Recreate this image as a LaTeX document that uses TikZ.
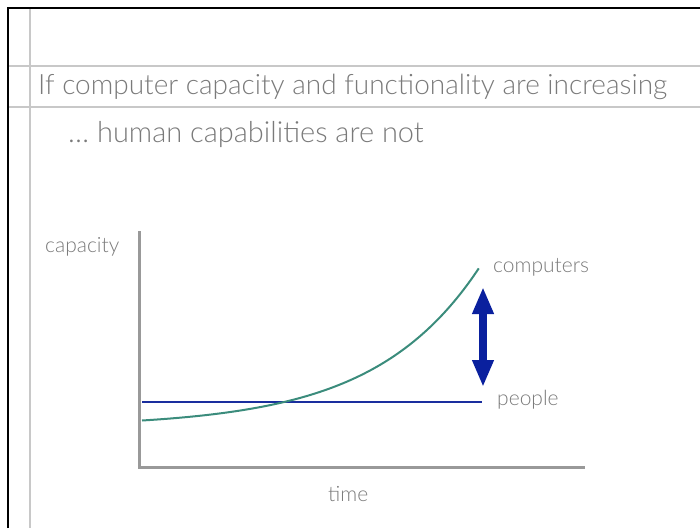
\documentclass[tikz,border=0pt]{standalone}
\usepackage{fontspec}
\setmainfont{Lato}[UprightFont=*-Light]
\usetikzlibrary{arrows.meta}
\definecolor{frameblack}{HTML}{000000}
\definecolor{guide}{HTML}{C8C8C8}
\definecolor{txtgray}{HTML}{7A7A7A}
\definecolor{axisgray}{HTML}{999999}
\definecolor{peopleblue}{HTML}{1A2E9E}
\definecolor{compgreen}{HTML}{3B8C7C}
\definecolor{arrowblue}{HTML}{0A209E}
\tikzset{
  guideline/.style={draw=guide, line width=1.5pt},
  titletext/.style={anchor=base west, inner sep=0pt, text=txtgray, font=\fontsize{28}{32}\selectfont},
  subtext/.style={anchor=base west, inner sep=0pt, text=txtgray, font=\fontsize{29}{33}\selectfont},
  labeltext/.style={anchor=base west, inner sep=0pt, text=txtgray, font=\fontsize{21}{24}\selectfont},
  axisline/.style={draw=axisgray, line width=3pt},
}
\begin{document}
\begin{tikzpicture}[x=1pt,y=-1pt]
\useasboundingbox (0,0) rectangle (700,528);
% frame and guides
\draw[guideline] (30,8) -- (30,528);
\draw[guideline] (8,66) -- (700,66);
\draw[guideline] (8,107) -- (700,107);
\draw[frameblack, line width=2.5pt] (8,528) -- (8,8) -- (700,8);
% titles
\node[titletext] (t1) at (38,94) {If computer capacity and functionality are increasing};
\node[subtext] (t2) at (68,142) {… human capabilities are not};
% axes
\coordinate (ytop) at (139,231);
\coordinate (orig) at (139,467);
\coordinate (xend) at (585,467);
\draw[axisline] (ytop) -- (orig) -- (xend);
% people line
\coordinate (pstart) at (142,401.5);
\coordinate (pend) at (482,401.5);
\draw[peopleblue, line width=2pt] (pstart) -- (pend);
% computers curve
\draw[compgreen, line width=2pt] plot[domain=0:1, samples=60, smooth] ({142+337*\x},{420.5-152.5*(exp(3.2*\x)-1)/(exp(3.2)-1)});
% double arrow
\coordinate (atop) at (483,287);
\coordinate (abot) at (483,387);
\draw[arrowblue, line width=7.5pt, {Triangle[length=27pt,width=20pt]}-{Triangle[length=27pt,width=20pt]}] (atop) -- (abot);
% labels
\node[labeltext] (lcap) at (45,252) {capacity};
\node[labeltext] (lcomp) at (493,272) {computers};
\node[labeltext] (lpeople) at (497,405) {people};
\node[labeltext] (ltime) at (328,501) {time};
\end{tikzpicture}
\end{document}
